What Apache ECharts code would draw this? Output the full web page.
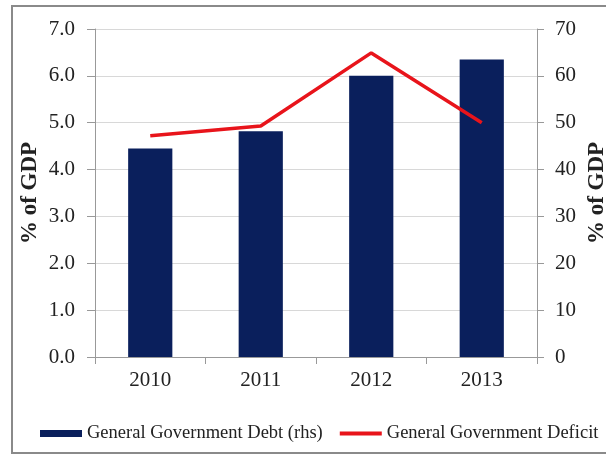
<!DOCTYPE html>
<html><head><meta charset="utf-8">
<script src="https://cdn.jsdelivr.net/npm/echarts@6/dist/echarts.min.js"></script>
<style>html,body{margin:0;padding:0;background:#fff}#c{width:606px;height:456px}</style>
</head><body><div id="c"></div>
<script>
const categories = ['2010','2011','2012','2013'];
const debt = [44.5, 48.2, 60.0, 63.5];
const deficit = [4.72, 4.93, 6.49, 5.0];
const leftTicks = [0,1,2,3,4,5,6,7];
const rightTicks = [0,10,20,30,40,50,60,70];

const font = 'Liberation Serif';
const chart = echarts.init(document.getElementById('c'));
chart.setOption({
  animation:false,
  textStyle:{fontFamily:font},
  graphic:[{type:'rect',shape:{x:12,y:6,width:620,height:447},style:{fill:'none',stroke:'#8a8a8a',lineWidth:2},silent:true}],
  grid:{left:95,right:69,top:29,bottom:99,outerBoundsMode:'none',containLabel:false},
  legend:{
    top:424,left:40,width:566,padding:0,itemGap:17,itemWidth:42,itemHeight:7,
    textStyle:{fontFamily:font,fontSize:18.5,color:'#222'},
    data:[{name:'General Government Debt (rhs)',icon:'rect'},
          {name:'General Government Deficit',icon:'path://M0,0H40V4H0Z',itemStyle:{color:'#e8141b'}}]
  },
  xAxis:{type:'category',data:categories,
    axisLine:{lineStyle:{color:'#999'}},axisTick:{show:true,length:7,lineStyle:{color:'#999'}},
    axisLabel:{fontFamily:font,fontSize:21,color:'#222',margin:13}},
  yAxis:[
    {type:'value',min:0,max:7,interval:1,name:'% of GDP',nameLocation:'middle',nameGap:53,nameRotate:90,nameMoveOverlap:false,
     nameTextStyle:{fontFamily:font,fontSize:23,fontWeight:'bold',color:'#222'},
     axisLine:{show:true,lineStyle:{color:'#999'}},axisTick:{show:true,length:8,lineStyle:{color:'#999'}},
     splitLine:{lineStyle:{color:'#d8d8d8'}},
     axisLabel:{fontFamily:font,fontSize:21,color:'#222',margin:20,formatter:v=>leftTicks.includes(v)?v.toFixed(1):''}},
    {type:'value',min:0,max:70,interval:10,name:'% of GDP',nameLocation:'middle',nameGap:49,nameRotate:90,nameMoveOverlap:false,
     nameTextStyle:{fontFamily:font,fontSize:23,fontWeight:'bold',color:'#222'},
     axisLine:{show:true,lineStyle:{color:'#999'}},axisTick:{show:true,length:7,lineStyle:{color:'#999'}},
     splitLine:{show:false},
     axisLabel:{fontFamily:font,fontSize:21,color:'#222',margin:18,formatter:v=>rightTicks.includes(v)?String(v):''}}
  ],
  series:[
    {name:'General Government Debt (rhs)',type:'bar',yAxisIndex:1,data:debt,barWidth:'40%',
     itemStyle:{color:'#0a1f5c'}},
    {name:'General Government Deficit',type:'line',yAxisIndex:0,data:deficit,symbol:'none',
     lineStyle:{color:'#e8141b',width:3.5},itemStyle:{color:'#e8141b'}}
  ]
});
</script></body></html>
